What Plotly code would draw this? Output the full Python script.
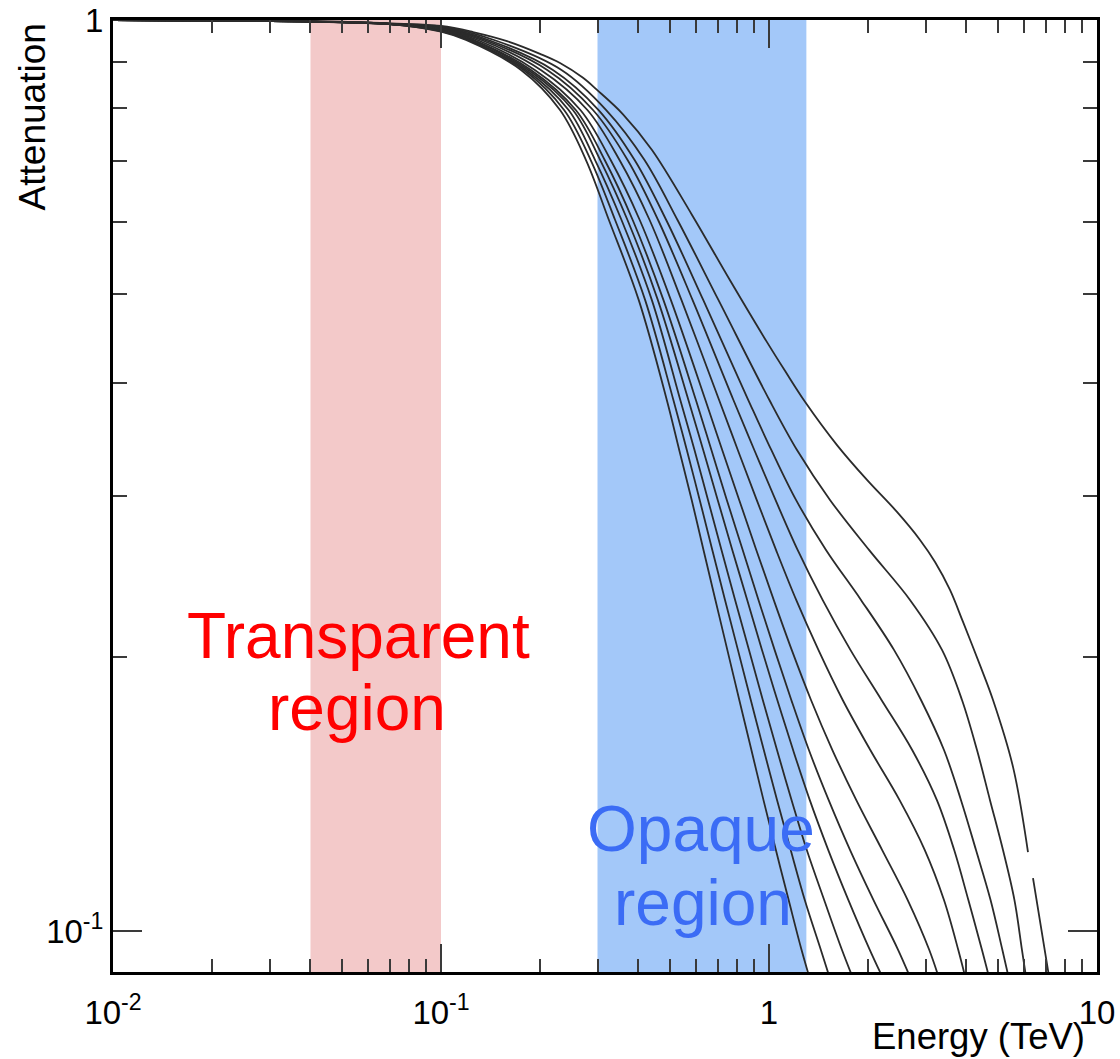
import plotly.graph_objects as go

# ---------------------------------------------------------------------------
# Gamma-ray attenuation curves (one per source redshift), energy in TeV
# ---------------------------------------------------------------------------

# Shaded energy bands (TeV)
transparent_band = [0.04, 0.1]
opaque_band = [0.3, 1.3]

# Low-energy part shared by curves 2..11
head_energy = [0.01, 0.04, 0.07]
head_att = [1.0, 0.996, 0.99]

# Attenuation at 100 GeV for curves 2..11
att_at_100gev = [0.984, 0.982, 0.981, 0.979, 0.978, 0.977, 0.975, 0.974, 0.972, 0.971]

# Attenuation levels at which the energies of curves 2..11 are given
att_levels = [0.9507, 0.8814, 0.7965, 0.7019, 0.6032, 0.4929, 0.3827, 0.3373,
              0.2973, 0.2620, 0.2309, 0.2035, 0.1793, 0.1580, 0.1392, 0.1227,
              0.1082, 0.0953, 0.0861]

# Curve 1 (lowest redshift) with its own sampling; None marks the break
curve1_energy = [0.01, 0.0371, 0.0652, 0.1, 0.1252, 0.1589, 0.2004, 0.2306, 0.2710,
                 0.2990, 0.3588, 0.4398, 0.5825, 0.7605, 0.9861, 1.1188, 1.2876,
                 1.612, 1.990, 2.456, 2.887, 3.208, 3.563, 3.904, 4.398, 4.819,
                 5.545, 6.160, None, 6.381, 7.089, 7.256]
curve1_att = [1.0, 0.9975, 0.9924, 0.985, 0.970, 0.948, 0.918, 0.897, 0.864,
              0.838, 0.788, 0.720, 0.611, 0.518, 0.443, 0.412, 0.381,
              0.3415, 0.3127, 0.2884, 0.2687, 0.2541, 0.2368, 0.2184, 0.1958, 0.1793,
              0.1514, 0.1221, None, 0.1143, 0.0906, 0.0861]

# Energies (TeV) at which curves 2..11 reach the attenuation levels above
curve2_energy = [0.1451, 0.2330, 0.3189, 0.4173, 0.5261, 0.7010, 1.0028, 1.2172,
                 1.5345, 2.0179, 2.6908, 3.3685, 3.8763, 4.3067, 4.7184, 5.1691,
                 5.600, 5.9065, 6.161]
curve3_energy = [0.1395, 0.2194, 0.3023, 0.3893, 0.4860, 0.6301, 0.8647, 1.0163,
                 1.2087, 1.4920, 1.9076, 2.4048, 2.9068, 3.4161, 3.8493, 4.2766,
                 4.735, 5.1475, 5.4905]
curve4_energy = [0.1361, 0.2108, 0.2907, 0.3706, 0.4591, 0.5845, 0.7789, 0.9019,
                 1.0467, 1.2224, 1.4569, 1.7708, 2.2029, 2.7327, 3.2500, 3.6697,
                 4.0515, 4.4605, 4.7986]
curve5_energy = [0.1328, 0.2015, 0.2795, 0.3501, 0.4325, 0.5407, 0.7045, 0.8033,
                 0.9172, 1.0504, 1.2103, 1.4145, 1.6776, 2.0363, 2.5012, 2.9854,
                 3.4137, 3.7769, 4.0572]
curve6_energy = [0.1292, 0.1932, 0.2661, 0.3291, 0.4035, 0.5019, 0.6399, 0.7200,
                 0.8112, 0.9146, 1.0336, 1.1728, 1.3429, 1.5606, 1.8458, 2.2137,
                 2.6458, 3.0813, 3.3875]
curve7_energy = [0.1260, 0.1881, 0.2576, 0.3156, 0.3841, 0.4765, 0.5986, 0.6674,
                 0.7436, 0.8314, 0.9289, 1.0401, 1.1695, 1.3233, 1.5206, 1.7671,
                 2.0811, 2.4768, 2.7987]
curve8_energy = [0.1244, 0.1848, 0.2524, 0.3058, 0.3703, 0.4581, 0.5679, 0.6301,
                 0.6976, 0.7729, 0.8581, 0.9520, 1.0600, 1.1843, 1.3317, 1.5163,
                 1.7450, 2.0306, 2.3171]
curve9_energy = [0.1223, 0.1815, 0.2449, 0.2950, 0.3551, 0.4392, 0.5365, 0.5927,
                 0.6517, 0.7164, 0.7882, 0.8690, 0.9574, 1.0578, 1.1719, 1.3039,
                 1.4722, 1.6694, 1.8653]
curve10_energy = [0.1208, 0.1787, 0.2373, 0.2860, 0.3395, 0.4190, 0.5111, 0.5616,
                  0.6148, 0.6717, 0.7343, 0.8039, 0.8800, 0.9642, 1.0585, 1.1646,
                  1.2848, 1.4395, 1.5749]
curve11_energy = [0.1192, 0.1754, 0.2306, 0.2767, 0.3250, 0.4006, 0.4880, 0.5324,
                  0.5812, 0.6314, 0.6864, 0.7463, 0.8118, 0.8838, 0.9621, 1.0496,
                  1.1475, 1.2571, 1.3638]

# Axis ticks
x_major = [0.01, 0.1, 1, 10]
x_major_text = ["10<sup>-2</sup>", "10<sup>-1</sup>", "1", "10"]
x_minor = [m * d for d in (0.01, 0.1, 1) for m in range(2, 10)]
y_major = [0.1, 1]
y_major_text = ["10<sup>-1</sup>", "1"]
y_minor = [m * 0.1 for m in range(2, 10)]

FONT = "Liberation Sans, Arial, Helvetica, sans-serif"
LINE_COLOR = "#2b2b2b"
TICK_COLOR = "#3a3a3a"
LINE = dict(color=LINE_COLOR, width=1.8, shape="spline", smoothing=1.0)

fig = go.Figure()

# Curve 1
fig.add_trace(go.Scatter(
    x=curve1_energy, y=curve1_att, mode="lines", line=LINE,
    connectgaps=False, showlegend=False, hoverinfo="skip",
))

# Curves 2..11
other_curves = [curve2_energy, curve3_energy, curve4_energy, curve5_energy,
                curve6_energy, curve7_energy, curve8_energy, curve9_energy,
                curve10_energy, curve11_energy]
for energies, a100 in zip(other_curves, att_at_100gev):
    fig.add_trace(go.Scatter(
        x=head_energy + [0.1] + energies,
        y=head_att + [a100] + att_levels,
        mode="lines", line=LINE, showlegend=False, hoverinfo="skip",
    ))

# Shaded bands behind the curves
fig.add_shape(type="rect", xref="x", yref="paper",
              x0=transparent_band[0], x1=transparent_band[1], y0=0, y1=1,
              fillcolor="#f3c9c9", line=dict(width=0), layer="below")
fig.add_shape(type="rect", xref="x", yref="paper",
              x0=opaque_band[0], x1=opaque_band[1], y0=0, y1=1,
              fillcolor="#a3c8f9", line=dict(width=0), layer="below")

# Region labels
red = "#ff0000"
blue = "#3b6cf5"
for text, xp, yp, col in [
    ("Transparent", 0.249, 0.353, red),
    ("region", 0.248, 0.277, red),
    ("Opaque", 0.5976, 0.150, blue),
    ("region", 0.600, 0.0722, blue),
]:
    fig.add_annotation(text=text, xref="paper", yref="paper", x=xp, y=yp,
                       xanchor="center", yanchor="middle", showarrow=False,
                       font=dict(family=FONT, size=64, color=col))

# Axis titles
fig.add_annotation(text="Attenuation", xref="paper", yref="paper",
                   x=-0.0823, y=0.998, xanchor="center", yanchor="top",
                   textangle=-90, showarrow=False,
                   font=dict(family=FONT, size=37, color="black"))
fig.add_annotation(text="Energy (TeV)", xref="paper", yref="paper",
                   x=(1087 - 113) / 984, y=-0.068, xanchor="right", yanchor="middle",
                   showarrow=False,
                   font=dict(family=FONT, size=36.5, color="black"))

axis_common = dict(
    type="log", showgrid=False, zeroline=False, automargin=False,
    showline=True, linecolor="black", linewidth=3, mirror="allticks",
    ticks="inside", tickwidth=2, tickcolor=TICK_COLOR,
    tickmode="array",
    tickfont=dict(family=FONT, size=33, color="black"),
)

fig.update_xaxes(
    **axis_common, range=[-2, 1], ticklen=28,
    tickvals=x_major, ticktext=x_major_text, ticklabelstandoff=9,
    minor=dict(tickmode="array", tickvals=x_minor, ticks="inside", ticklen=13,
               tickwidth=2, tickcolor=TICK_COLOR, showgrid=False),
)
fig.update_yaxes(
    **axis_common, range=[-1.045, 0], ticklen=29,
    tickvals=y_major, ticktext=y_major_text, ticklabelstandoff=0,
    minor=dict(tickmode="array", tickvals=y_minor, ticks="inside", ticklen=14,
               tickwidth=2, tickcolor=TICK_COLOR, showgrid=False),
)

fig.update_layout(
    width=1120, height=1059,
    margin=dict(l=113, r=23, t=20, b=87),
    paper_bgcolor="white", plot_bgcolor="white",
    font=dict(family=FONT, color="black"),
)

fig.write_html("out.html")
